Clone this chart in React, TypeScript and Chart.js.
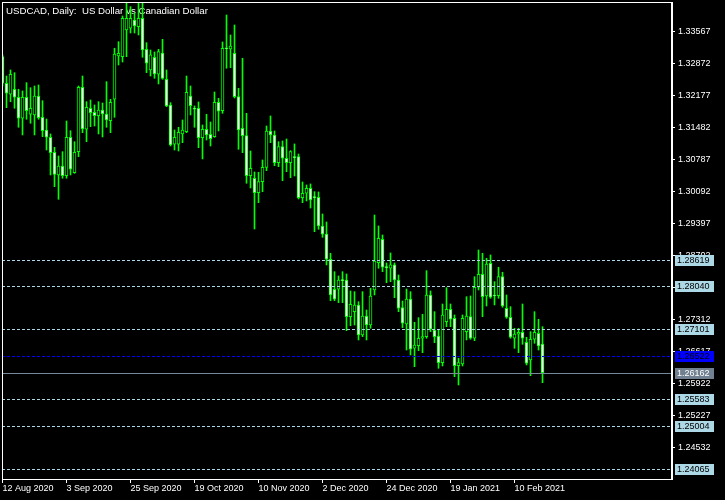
import { useEffect, useRef } from "react";
import { Chart, registerables } from "chart.js";

Chart.register(...registerables);

const chartTitle = "USDCAD, Daily:  US Dollar vs Canadian Dollar";

const opens = [
  1.33025, 1.32447, 1.32208, 1.32317, 1.32143, 1.31687, 1.32143, 1.31774, 1.31758, 1.32171,
  1.31708, 1.31433, 1.31274, 1.30948, 1.30455, 1.30651, 1.3044, 1.31274, 1.30505, 1.30961,
  1.3236, 1.31448, 1.31904, 1.31817, 1.31743, 1.31867, 1.3178, 1.31635, 1.32099, 1.3304,
  1.33025, 1.33604, 1.33641, 1.33822, 1.33676, 1.33859, 1.33185, 1.32736, 1.33012, 1.32642,
  1.33105, 1.32534, 1.31976, 1.31122, 1.31122, 1.31346, 1.31396, 1.32171, 1.31904, 1.31904,
  1.31265, 1.31448, 1.31339, 1.31287, 1.32034, 1.31852, 1.33207, 1.33192, 1.33098, 1.32156,
  1.31469, 1.31309, 1.3044, 1.30384, 1.30071, 1.3031, 1.30622, 1.31411, 1.31324, 1.30722,
  1.3107, 1.30818, 1.30722, 1.30846, 1.30853, 1.29962, 1.30058, 1.30166, 1.29971, 1.29971,
  1.29348, 1.29174, 1.28624, 1.27973, 1.27973, 1.28175, 1.28175, 1.27378, 1.27486, 1.27632,
  1.2698, 1.27393, 1.27197, 1.27958, 1.2855, 1.29059, 1.28451, 1.28429, 1.28501, 1.28175,
  1.27573, 1.27219, 1.27762, 1.26691, 1.26748, 1.26909, 1.26943, 1.27849, 1.27089, 1.26958,
  1.26379, 1.27269, 1.27538, 1.27343, 1.26313, 1.2635, 1.27052, 1.27378, 1.26909, 1.28016,
  1.28298, 1.27827, 1.28537, 1.27834, 1.27834, 1.28246, 1.2756, 1.27365, 1.26909, 1.26995,
  1.27039, 1.26822, 1.26437, 1.26887, 1.27017, 1.26785,
];

const highs = [
  1.33062, 1.32605, 1.32736, 1.32677, 1.32317, 1.3228, 1.3246, 1.32351, 1.32388, 1.3241,
  1.32069, 1.31671, 1.31346, 1.31057, 1.30868, 1.30961, 1.31628, 1.31417, 1.31178, 1.32388,
  1.32605, 1.32047, 1.32084, 1.31976, 1.32047, 1.32019, 1.32482, 1.32099, 1.33207, 1.3335,
  1.33909, 1.34205, 1.34111, 1.33974, 1.34205, 1.34191, 1.33329, 1.3317, 1.33127, 1.33185,
  1.33402, 1.32736, 1.32026, 1.31433, 1.31491, 1.3165, 1.32605, 1.32388, 1.31954, 1.32041,
  1.31541, 1.31774, 1.31606, 1.32258, 1.32121, 1.33344, 1.3393, 1.33496, 1.33713, 1.32338,
  1.3299, 1.31795, 1.30976, 1.3052, 1.30514, 1.30781, 1.31519, 1.31737, 1.31411, 1.31178,
  1.31194, 1.31237, 1.30983, 1.31129, 1.30911, 1.30303, 1.30238, 1.3026, 1.30093, 1.30086,
  1.29608, 1.29434, 1.28755, 1.28355, 1.28262, 1.28355, 1.28305, 1.27936, 1.27921, 1.27703,
  1.27921, 1.27523, 1.27994, 1.29586, 1.29348, 1.29152, 1.28544, 1.28761, 1.28544, 1.28283,
  1.27719, 1.27979, 1.27921, 1.27256, 1.27356, 1.2743, 1.28377, 1.27936, 1.27486, 1.27089,
  1.27653, 1.28007, 1.27653, 1.27415, 1.26474, 1.27415, 1.27812, 1.27827, 1.28246, 1.28826,
  1.28755, 1.28646, 1.28718, 1.28138, 1.28451, 1.28342, 1.27849, 1.27595, 1.27126, 1.27126,
  1.27653, 1.2693, 1.27052, 1.27486, 1.27321, 1.2716,
];

const lows = [
  1.32388, 1.31917, 1.32047, 1.31904, 1.31491, 1.31324, 1.31665, 1.31578, 1.31324, 1.31665,
  1.31287, 1.30998, 1.30455, 1.30201, 1.29927, 1.30384, 1.30384, 1.30455, 1.30492, 1.30853,
  1.31374, 1.31178, 1.31504, 1.31519, 1.31346, 1.31281, 1.31491, 1.31374, 1.31708, 1.32844,
  1.32909, 1.33025, 1.33539, 1.33539, 1.33496, 1.33012, 1.32677, 1.32605, 1.32555, 1.32432,
  1.32534, 1.31939, 1.31085, 1.30998, 1.30976, 1.31157, 1.31374, 1.31758, 1.31491, 1.31048,
  1.30803, 1.31215, 1.31085, 1.31274, 1.31411, 1.31795, 1.32773, 1.32786, 1.32128, 1.31013,
  1.3094, 1.30275, 1.30173, 1.29282, 1.29854, 1.30093, 1.30549, 1.31157, 1.30657, 1.30635,
  1.30331, 1.30527, 1.30397, 1.30434, 1.29934, 1.29854, 1.29891, 1.29738, 1.29224, 1.29276,
  1.29102, 1.28501, 1.27725, 1.27725, 1.27682, 1.27682, 1.27074, 1.27182, 1.27197, 1.26872,
  1.26943, 1.26872, 1.27126, 1.27849, 1.28429, 1.28355, 1.28116, 1.28138, 1.2779, 1.27486,
  1.27139, 1.26654, 1.26546, 1.26292, 1.26639, 1.26596, 1.26909, 1.27052, 1.26813, 1.26257,
  1.26307, 1.2716, 1.2716, 1.26075, 1.25894, 1.26307, 1.26872, 1.26887, 1.26856, 1.27958,
  1.27378, 1.2761, 1.27777, 1.27632, 1.27777, 1.27582, 1.27343, 1.26909, 1.26691, 1.26596,
  1.26778, 1.26329, 1.26096, 1.268, 1.26654, 1.25944,
];

const closes = [
  1.32447, 1.3223, 1.32642, 1.32143, 1.31687, 1.32143, 1.31852, 1.31904, 1.32171, 1.317,
  1.31417, 1.31274, 1.3094, 1.3047, 1.30651, 1.3044, 1.31274, 1.30579, 1.30948, 1.3236,
  1.31454, 1.31926, 1.31808, 1.31743, 1.31867, 1.3178, 1.3165, 1.32034, 1.33083, 1.33098,
  1.33859, 1.33859, 1.33859, 1.33691, 1.33859, 1.3317, 1.32881, 1.33062, 1.32649, 1.33133,
  1.32555, 1.31954, 1.31107, 1.31274, 1.31383, 1.31433, 1.32251, 1.3196, 1.31882, 1.31265,
  1.31448, 1.31324, 1.31244, 1.32034, 1.31839, 1.33207, 1.33196, 1.33257, 1.32156, 1.31433,
  1.31309, 1.3044, 1.30601, 1.30071, 1.3031, 1.30622, 1.31411, 1.31324, 1.30722, 1.3107,
  1.30818, 1.30722, 1.30961, 1.30831, 1.29962, 1.30058, 1.30166, 1.29912, 1.29962, 1.29348,
  1.29167, 1.28624, 1.27849, 1.27756, 1.28175, 1.2816, 1.27378, 1.27647, 1.27632, 1.2698,
  1.27393, 1.27197, 1.27827, 1.28587, 1.2908, 1.28451, 1.28442, 1.28501, 1.28175, 1.2756,
  1.27234, 1.27762, 1.2667, 1.26763, 1.26909, 1.26943, 1.27849, 1.27104, 1.26943, 1.26379,
  1.27415, 1.27538, 1.27321, 1.26313, 1.26379, 1.27343, 1.27393, 1.26909, 1.28016, 1.28298,
  1.27812, 1.28522, 1.27799, 1.27827, 1.28246, 1.2761, 1.27365, 1.2693, 1.27002, 1.27039,
  1.26909, 1.26366, 1.26887, 1.27039, 1.26741, 1.26162,
];

const dateTickIndex = [0, 16, 32, 48, 64, 80, 96, 112, 128];
const dateTickLabels = [
  "12 Aug 2020", "3 Sep 2020", "25 Sep 2020", "19 Oct 2020", "10 Nov 2020",
  "2 Dec 2020", "24 Dec 2020", "19 Jan 2021", "10 Feb 2021",
];

const priceTicks = [
  1.33567, 1.32872, 1.32177, 1.31482, 1.30787, 1.30092, 1.29397, 1.28702, 1.28007,
  1.27312, 1.26617, 1.25922, 1.25227, 1.24532,
];

const levelLines = [1.28619, 1.2804, 1.27101, 1.25583, 1.25004, 1.24065];
const blueLines = [1.26522];

const priceMin = 1.238521;
const priceMax = 1.342121;
const barIndexMin = -0.125;
const barIndexMax = 167.375;

const FONT = '"Liberation Sans", Arial, sans-serif';

const overlayPlugin = {
  id: "mtOverlay",
  beforeDatasetsDraw(chart: any) {
    const ctx = chart.ctx;
    ctx.save();
    ctx.fillStyle = "#ffffff";
    ctx.font = `9.7px ${FONT}`;
    ctx.textBaseline = "alphabetic";
    ctx.textAlign = "left";
    ctx.fillText(chartTitle, 6, 13.5);
    ctx.restore();
  },
  afterDatasetsDraw(chart: any) {
    const ctx = chart.ctx;
    const a = chart.chartArea;
    const y = chart.scales.y;
    ctx.save();
    const hline = (v: number, color: string, dash: number[]) => {
      const py = Math.round(y.getPixelForValue(v)) + 0.5;
      ctx.beginPath();
      ctx.setLineDash(dash);
      ctx.strokeStyle = color;
      ctx.lineWidth = 1;
      ctx.moveTo(a.left, py);
      ctx.lineTo(a.right, py);
      ctx.stroke();
    };
    levelLines.forEach((v) => hline(v, "#add8e6", [3, 2]));
    blueLines.forEach((v) => hline(v, "#0000ff", [3, 2]));
    hline(closes[closes.length - 1], "#778899", []);
    ctx.setLineDash([]);
    ctx.fillStyle = "#ffffff";
    ctx.fillRect(a.left, a.top, a.right - a.left + 1, 1);
    ctx.fillRect(a.left, a.top, 1, a.bottom - a.top + 1);
    ctx.fillRect(a.left, a.bottom, a.right - a.left + 1, 1);
    ctx.fillRect(a.right - 1, a.top, 2, a.bottom - a.top + 1);
    ctx.restore();
  },
  afterDraw(chart: any) {
    const ctx = chart.ctx;
    const a = chart.chartArea;
    const y = chart.scales.y;
    ctx.save();
    const tag = (v: number, bg: string, fg: string) => {
      const py = Math.round(y.getPixelForValue(v));
      ctx.fillStyle = bg;
      ctx.fillRect(a.right + 3, py - 5, 39, 11);
      ctx.fillStyle = fg;
      ctx.font = `9px ${FONT}`;
      ctx.textBaseline = "middle";
      ctx.textAlign = "left";
      ctx.fillText(v.toFixed(5), a.right + 5, py + 0.5);
    };
    levelLines.forEach((v) => tag(v, "#add8e6", "#000000"));
    blueLines.forEach((v) => tag(v, "#0000ff", "#000000"));
    tag(closes[closes.length - 1], "#708090", "#ffffff");
    ctx.restore();
  },
};

export default function App() {
  const canvasRef = useRef<HTMLCanvasElement | null>(null);

  useEffect(() => {
    const canvas = canvasRef.current;
    if (!canvas) return;

    const bodies = opens.map((o, i) => ({
      x: i,
      y: [Math.min(o, closes[i]), Math.max(o, closes[i])],
    }));
    const bodyColors = opens.map((o, i) => (closes[i] < o ? "#ffffff" : "#000000"));
    const wicks = lows.map((l, i) => ({ x: i, y: [l, highs[i]] }));

    const chart = new Chart(canvas, {
      type: "bar",
      data: {
        datasets: [
          {
            label: "body",
            data: bodies as any,
            backgroundColor: bodyColors,
            borderColor: "#00ff00",
            borderWidth: 1,
            borderSkipped: false,
            barThickness: 3,
            minBarLength: 1,
            grouped: false,
            order: 0,
          } as any,
          {
            label: "wick",
            data: wicks as any,
            backgroundColor: "#00ff00",
            borderWidth: 0,
            barThickness: 1,
            grouped: false,
            order: 1,
          } as any,
        ],
      },
      options: {
        responsive: false,
        animation: false,
        events: [],
        layout: { padding: { left: 2, top: 2, right: 0, bottom: 0 } },
        plugins: {
          legend: { display: false },
          tooltip: { enabled: false },
          title: { display: false },
        },
        scales: {
          x: {
            type: "linear",
            min: barIndexMin,
            max: barIndexMax,
            offset: false,
            afterBuildTicks: (scale: any) => {
              scale.ticks = dateTickIndex.map((v) => ({ value: v }));
            },
            afterFit: (scale: any) => {
              scale.height = 21;
              scale.paddingLeft = 0;
              scale.paddingRight = 0;
            },
            grid: {
              offset: false,
              drawOnChartArea: false,
              drawTicks: true,
              tickLength: 4,
              tickColor: "#ffffff",
              tickWidth: 1,
            },
            border: { display: false },
            ticks: {
              autoSkip: false,
              maxRotation: 0,
              minRotation: 0,
              align: "start",
              padding: 0,
              color: "#ffffff",
              font: { family: FONT, size: 9 },
              callback: (v: any) => {
                const idx = dateTickIndex.indexOf(Number(v));
                return idx >= 0 ? dateTickLabels[idx] : "";
              },
            },
          },
          y: {
            type: "linear",
            position: "right",
            min: priceMin,
            max: priceMax,
            afterBuildTicks: (scale: any) => {
              scale.ticks = priceTicks.map((v) => ({ value: v }));
            },
            afterFit: (scale: any) => {
              scale.width = 53;
              scale.paddingTop = 0;
              scale.paddingBottom = 0;
            },
            grid: {
              drawOnChartArea: false,
              drawTicks: true,
              tickLength: 3,
              tickColor: "#ffffff",
              tickWidth: 1,
            },
            border: { display: false },
            ticks: {
              autoSkip: false,
              padding: 3,
              color: "#ffffff",
              font: { family: FONT, size: 9 },
              callback: (v: any) => Number(v).toFixed(5),
            },
          },
        },
      } as any,
      plugins: [overlayPlugin],
    });

    return () => {
      chart.destroy();
    };
  }, []);

  return (
    <div
      style={{
        position: "fixed",
        left: 0,
        top: 0,
        width: 725,
        height: 500,
        background: "#000000",
      }}
    >
      <canvas ref={canvasRef} width={725} height={500} style={{ display: "block" }} />
    </div>
  );
}
